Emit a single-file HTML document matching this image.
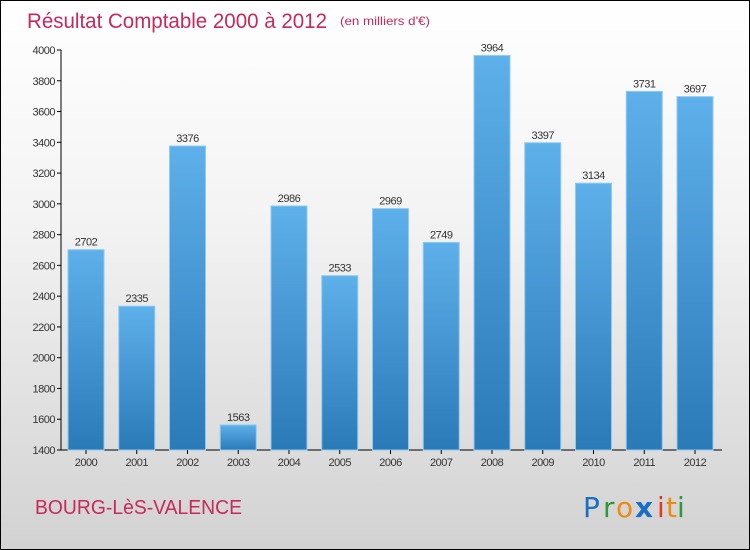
<!DOCTYPE html>
<html><head><meta charset="utf-8"><style>
html,body{margin:0;padding:0}
body{width:750px;height:550px;overflow:hidden;font-family:"Liberation Sans",sans-serif}
#wrap{position:absolute;left:0;top:0;width:748px;height:548px;border:1px solid #000;background:linear-gradient(#ffffff 0%,#f3f3f3 40%,#d2d2d2 100%)}
</style></head><body>
<div id="wrap">
<svg id="chart" width="750" height="550" style="position:absolute;left:-1px;top:-1px">
<defs><linearGradient id="bg" x1="0" y1="0" x2="0" y2="1"><stop offset="0" stop-color="#5eb0ea"/><stop offset="1" stop-color="#2a7ab8"/></linearGradient></defs>
<text x="27" y="28" font-size="21" fill="#c8285a" textLength="300" lengthAdjust="spacingAndGlyphs">Résultat Comptable 2000 à 2012</text>
<text x="340" y="25" font-size="12" fill="#c8285a" textLength="90" lengthAdjust="spacingAndGlyphs">(en milliers d'€)</text>
<text x="35" y="514" font-size="20" fill="#c8285a" textLength="207" lengthAdjust="spacingAndGlyphs">BOURG-LèS-VALENCE</text>
<g font-size="28" font-family="'DejaVu Sans',sans-serif">
<text x="583" y="517" fill="#1a6fc4">P</text><text x="603" y="517" fill="#2a9a3a">r</text><text x="616" y="517" fill="#f08a10">o</text><text x="635" y="517" fill="#1a6fc4" font-weight="bold">x</text><text x="657" y="517" fill="#e03a1a">i</text><text x="666" y="517" fill="#f08a10">t</text><text x="677" y="517" fill="#2a9a3a">i</text>
</g>
<g id="plot"></g>
</svg></div>
<script>
const years=["2000","2001","2002","2003","2004","2005","2006","2007","2008","2009","2010","2011","2012"];
const values=[2702,2335,3376,1563,2986,2533,2969,2749,3964,3397,3134,3731,3697];
const ticks=[1400,1600,1800,2000,2200,2400,2600,2800,3000,3200,3400,3600,3800,4000];
const NS="http://www.w3.org/2000/svg";
const g=document.getElementById('plot');
const y=v=>450-(v-1400)*(450-50)/2600;
const x=i=>86+i*50.75;
function mk(t,a){const e=document.createElementNS(NS,t);for(const k in a)e.setAttribute(k,a[k]);g.appendChild(e);return e;}
const ax=mk('line',{x1:61,y1:50,x2:61,y2:450,stroke:'#000'});


const bx=mk('line',{x1:61,y1:450,x2:722,y2:450,stroke:'#000'});


ticks.forEach(t=>{
 mk('line',{x1:57,x2:61,y1:y(t),y2:y(t),stroke:'#000'});
 const tl=mk('text',{x:55,y:y(t)+4,'font-size':11,fill:'#333','text-anchor':'end','letter-spacing':'-0.5'});
 tl.textContent=t;
 
 
});
values.forEach((v,i)=>{
 const r=mk('rect',{x:x(i)-18,y:y(v),width:36,height:450-y(v),fill:'url(#bg)',stroke:'#8fcaf2','stroke-width':1});
 
 
 const lb=mk('text',{x:x(i),y:y(v)-4,'font-size':11,fill:'#333','text-anchor':'middle','letter-spacing':'-0.5'});
 lb.textContent=v;
 
 
 mk('line',{x1:x(i),x2:x(i),y1:450,y2:454,stroke:'#000'});
 const xl=mk('text',{x:x(i),y:466,'font-size':11,fill:'#333','text-anchor':'middle','letter-spacing':'-0.5'});
 xl.textContent=years[i];
 
 
});
</script>
</body></html>
